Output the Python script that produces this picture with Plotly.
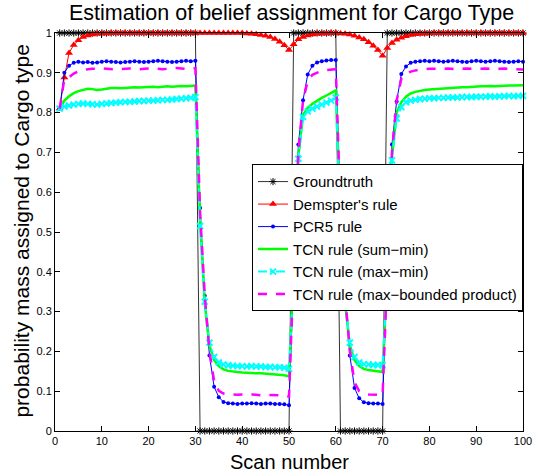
import plotly.graph_objects as go

scan = list(range(1, 101))

groundtruth = [1, 1, 1, 1, 1, 1, 1, 1, 1, 1,
               1, 1, 1, 1, 1, 1, 1, 1, 1, 1,
               1, 1, 1, 1, 1, 1, 1, 1, 1, 1,
               0, 0, 0, 0, 0, 0, 0, 0, 0, 0,
               0, 0, 0, 0, 0, 0, 0, 0, 0, 0,
               1, 1, 1, 1, 1, 1, 1, 1, 1, 1,
               0, 0, 0, 0, 0, 0, 0, 0, 0, 0,
               1, 1, 1, 1, 1, 1, 1, 1, 1, 1,
               1, 1, 1, 1, 1, 1, 1, 1, 1, 1,
               1, 1, 1, 1, 1, 1, 1, 1, 1, 1]

dempster = [0.81, 0.888, 0.950, 0.970, 0.982, 0.990, 0.994, 0.996, 0.998, 0.999,
            0.999, 1.0, 1.0, 1.0, 1.0, 1.0, 1.0, 1.0, 1.0, 1.0,
            1.0, 1.0, 1.0, 1.0, 1.0, 1.0, 1.0, 1.0, 1.0, 1.0,
            1.0, 1.0, 1.0, 1.0, 1.0, 1.0, 1.0, 1.0, 1.0, 1.0,
            0.999, 0.998, 0.997, 0.995, 0.993, 0.990, 0.985, 0.978, 0.969, 0.957,
            0.972, 0.984, 0.990, 0.994, 0.996, 0.998, 0.999, 0.999, 1.0, 1.0,
            0.999, 0.998, 0.996, 0.993, 0.989, 0.984, 0.977, 0.968, 0.957, 0.943,
            0.962, 0.975, 0.983, 0.988, 0.992, 0.995, 0.997, 0.998, 0.999, 0.999,
            1.0, 1.0, 1.0, 1.0, 1.0, 1.0, 1.0, 1.0, 1.0, 1.0,
            1.0, 1.0, 1.0, 1.0, 1.0, 1.0, 1.0, 1.0, 1.0, 1.0]

pcr5 = [0.81, 0.900, 0.918, 0.925, 0.928, 0.926, 0.927, 0.925, 0.926, 0.928,
        0.929, 0.928, 0.927, 0.926, 0.927, 0.928, 0.929, 0.928, 0.927, 0.928,
        0.929, 0.930, 0.929, 0.928, 0.927, 0.928, 0.929, 0.930, 0.929, 0.930,
        0.56, 0.34, 0.19, 0.111, 0.085, 0.073, 0.070, 0.069, 0.068, 0.069,
        0.069, 0.070, 0.069, 0.068, 0.069, 0.069, 0.068, 0.068, 0.067, 0.065,
        0.42, 0.72, 0.831, 0.896, 0.918, 0.926, 0.929, 0.931, 0.932, 0.932,
        0.56, 0.34, 0.19, 0.108, 0.082, 0.072, 0.070, 0.069, 0.069, 0.068,
        0.42, 0.72, 0.828, 0.897, 0.916, 0.925, 0.928, 0.929, 0.930, 0.929,
        0.930, 0.929, 0.928, 0.929, 0.930, 0.929, 0.928, 0.927, 0.929, 0.930,
        0.929, 0.928, 0.929, 0.930, 0.929, 0.928, 0.927, 0.928, 0.929, 0.928]

tcn_sum_min = [0.81, 0.830, 0.841, 0.849, 0.854, 0.858, 0.860, 0.859, 0.857, 0.858,
               0.860, 0.862, 0.862, 0.861, 0.862, 0.863, 0.864, 0.863, 0.864, 0.865,
               0.865, 0.864, 0.865, 0.866, 0.865, 0.866, 0.867, 0.866, 0.867, 0.868,
               0.53, 0.32, 0.215, 0.178, 0.163, 0.155, 0.151, 0.149, 0.148, 0.147,
               0.146, 0.146, 0.145, 0.145, 0.144, 0.143, 0.142, 0.141, 0.140, 0.137,
               0.40, 0.69, 0.795, 0.812, 0.822, 0.830, 0.837, 0.843, 0.850, 0.856,
               0.53, 0.32, 0.215, 0.178, 0.163, 0.156, 0.153, 0.151, 0.150, 0.148,
               0.40, 0.69, 0.800, 0.826, 0.840, 0.848, 0.852, 0.855, 0.857, 0.858,
               0.859, 0.860, 0.861, 0.862, 0.862, 0.863, 0.864, 0.864, 0.865, 0.865,
               0.866, 0.866, 0.867, 0.866, 0.867, 0.867, 0.868, 0.868, 0.869, 0.869]

tcn_max_min = [0.81, 0.815, 0.818, 0.820, 0.822, 0.823, 0.822, 0.821, 0.820, 0.822,
               0.823, 0.824, 0.825, 0.826, 0.827, 0.827, 0.828, 0.829, 0.829, 0.830,
               0.830, 0.831, 0.832, 0.832, 0.833, 0.834, 0.835, 0.836, 0.837, 0.839,
               0.515, 0.325, 0.222, 0.186, 0.172, 0.167, 0.165, 0.164, 0.163, 0.163,
               0.162, 0.163, 0.162, 0.162, 0.161, 0.161, 0.160, 0.160, 0.159, 0.156,
               0.39, 0.684, 0.789, 0.803, 0.810, 0.815, 0.820, 0.825, 0.830, 0.838,
               0.515, 0.325, 0.222, 0.186, 0.172, 0.168, 0.167, 0.166, 0.166, 0.165,
               0.39, 0.680, 0.785, 0.814, 0.826, 0.830, 0.832, 0.834, 0.835, 0.836,
               0.836, 0.837, 0.837, 0.838, 0.838, 0.838, 0.839, 0.839, 0.839, 0.840,
               0.840, 0.840, 0.841, 0.840, 0.841, 0.841, 0.842, 0.841, 0.842, 0.842]

tcn_max_bounded = [0.81, 0.885, 0.889, 0.898, 0.904, 0.907, 0.909, 0.910, 0.911, 0.911,
                   0.910, 0.909, 0.908, 0.909, 0.910, 0.911, 0.910, 0.909, 0.910, 0.911,
                   0.911, 0.910, 0.909, 0.910, 0.911, 0.912, 0.911, 0.910, 0.911, 0.912,
                   0.55, 0.34, 0.20, 0.125, 0.101, 0.094, 0.092, 0.091, 0.091, 0.092,
                   0.091, 0.092, 0.091, 0.090, 0.091, 0.091, 0.090, 0.090, 0.089, 0.086,
                   0.41, 0.70, 0.83, 0.880, 0.895, 0.901, 0.905, 0.907, 0.908, 0.909,
                   0.55, 0.34, 0.20, 0.122, 0.100, 0.094, 0.092, 0.092, 0.091, 0.090,
                   0.41, 0.70, 0.83, 0.885, 0.897, 0.903, 0.906, 0.908, 0.909, 0.910,
                   0.910, 0.909, 0.910, 0.911, 0.910, 0.909, 0.910, 0.911, 0.910, 0.909,
                   0.910, 0.911, 0.910, 0.909, 0.910, 0.911, 0.910, 0.909, 0.909, 0.908]

x_ticks = [0, 10, 20, 30, 40, 50, 60, 70, 80, 90, 100]
y_ticks = [0, 0.1, 0.2, 0.3, 0.4, 0.5, 0.6, 0.7, 0.8, 0.9, 1]
y_tick_labels = ["0", "0.1", "0.2", "0.3", "0.4", "0.5", "0.6", "0.7", "0.8", "0.9", "1"]

FONT = "Liberation Sans, Arial, Helvetica, sans-serif"

fig = go.Figure()
fig.add_trace(go.Scatter(
    x=scan, y=groundtruth, name="Groundtruth", mode="lines+markers",
    line=dict(color="#333333", width=1),
    marker=dict(symbol="asterisk-open", size=6, color="black", line=dict(color="black", width=1)),
    cliponaxis=False))
fig.add_trace(go.Scatter(
    x=scan, y=dempster, name="Demspter's rule", mode="lines+markers",
    line=dict(color="#FF0000", width=1),
    marker=dict(symbol="triangle-up", size=7, color="#FF0000"),
    cliponaxis=False))
fig.add_trace(go.Scatter(
    x=scan, y=pcr5, name="PCR5 rule", mode="lines+markers",
    line=dict(color="#0000FF", width=1),
    marker=dict(symbol="circle", size=4, color="#0000FF"),
    cliponaxis=False))
fig.add_trace(go.Scatter(
    x=scan, y=tcn_sum_min, name="TCN rule (sum\u2212min)", mode="lines",
    line=dict(color="#00FF00", width=2.5),
    cliponaxis=False))
fig.add_trace(go.Scatter(
    x=scan, y=tcn_max_min, name="TCN rule (max\u2212min)", mode="lines+markers",
    line=dict(color="#00FFFF", width=2, dash="dashdot"),
    marker=dict(symbol="x-thin-open", size=6, color="#00FFFF", line=dict(color="#00FFFF", width=2)),
    cliponaxis=False))
fig.add_trace(go.Scatter(
    x=scan, y=tcn_max_bounded, name="TCN rule (max\u2212bounded product)", mode="lines",
    line=dict(color="#FF00FF", width=2.5, dash="dash"),
    cliponaxis=False))

fig.update_layout(
    width=543, height=476,
    margin=dict(l=55, r=20, t=33, b=45, autoexpand=False),
    paper_bgcolor="white", plot_bgcolor="white",
    font=dict(family=FONT, color="black", size=11),
    title=dict(text="Estimation of belief assignment for Cargo Type",
               font=dict(size=21.5, family=FONT, color="black"),
               x=0.537, xanchor="center", y=0.973, yanchor="middle", yref="container"),
    showlegend=True,
    legend=dict(x=1.0, xanchor="right", y=0.67, yanchor="top",
                bgcolor="white", bordercolor="black", borderwidth=1,
                font=dict(size=15, family=FONT, color="black"),
                itemwidth=30, tracegroupgap=0),
    annotations=[
        dict(text="Scan number", xref="paper", yref="paper", x=0.5, y=-0.078,
             xanchor="center", yanchor="middle", showarrow=False,
             font=dict(size=20, family=FONT, color="black")),
        dict(text="probability mass assigned to Cargo type", xref="paper", yref="paper",
             x=-0.071, y=0.503, xanchor="center", yanchor="middle", textangle=-90,
             showarrow=False, font=dict(size=21, family=FONT, color="black")),
    ],
)
fig.update_xaxes(
    range=[0, 100], tickvals=x_ticks, ticks="inside", ticklen=5, tickcolor="black",
    showline=True, linecolor="black", linewidth=1, mirror="ticks",
    showgrid=False, zeroline=False, automargin=False,
    tickfont=dict(size=11))
fig.update_yaxes(
    range=[0, 1], tickvals=y_ticks, ticktext=y_tick_labels, ticks="inside", ticklen=5,
    tickcolor="black", showline=True, linecolor="black", linewidth=1, mirror="ticks",
    showgrid=False, zeroline=False, automargin=False,
    tickfont=dict(size=11))

fig.write_html("out.html",
               config={"displayModeBar": False},
               post_script="document.body.style.margin='0';document.body.style.overflow='hidden';")
